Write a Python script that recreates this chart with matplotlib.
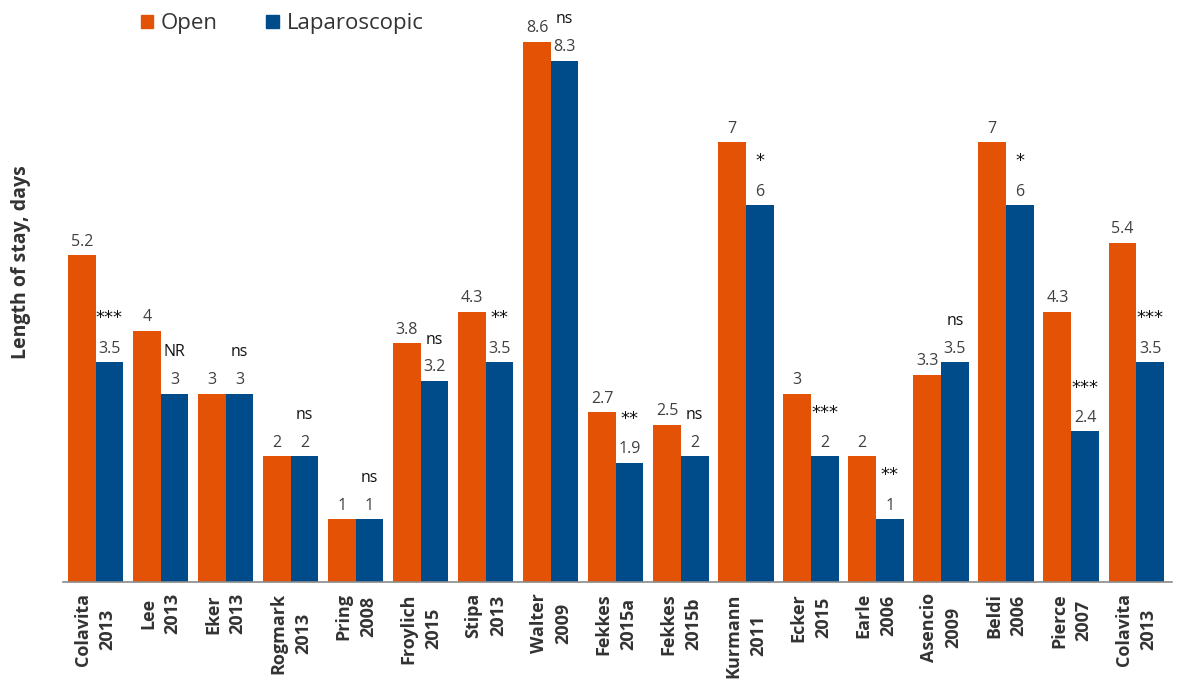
import matplotlib
matplotlib.use("Agg")
import matplotlib.pyplot as plt
from matplotlib.patches import Patch
import numpy as np

plt.rcParams["font.family"] = ["Open Sans", "DejaVu Sans"]

studies = ["Colavita\n2013", "Lee\n2013", "Eker\n2013", "Rogmark\n2013", "Pring\n2008",
           "Froylich\n2015", "Stipa\n2013", "Walter\n2009", "Fekkes\n2015a", "Fekkes\n2015b",
           "Kurmann\n2011", "Ecker\n2015", "Earle\n2006", "Asencio\n2009", "Beldi\n2006",
           "Pierce\n2007", "Colavita\n2013"]
open_los = [5.2, 4, 3, 2, 1, 3.8, 4.3, 8.6, 2.7, 2.5, 7, 3, 2, 3.3, 7, 4.3, 5.4]
lap_los = [3.5, 3, 3, 2, 1, 3.2, 3.5, 8.3, 1.9, 2, 6, 2, 1, 3.5, 6, 2.4, 3.5]
significance = ["***", "NR", "ns", "ns", "ns", "ns", "**", "ns", "**", "ns",
                "*", "***", "**", "ns", "*", "***", "***"]

ORANGE = "#E35205"
BLUE = "#004C8A"
LABEL_GRAY = "#404040"

fig = plt.figure(figsize=(11.82, 6.79), dpi=100)
ax = fig.add_axes([0.0533, 0.1429, 0.9382, 0.851])

x = np.arange(len(studies))
w = 0.425
ax.bar(x - w / 2, open_los, width=w, color=ORANGE)
ax.bar(x + w / 2, lap_los, width=w, color=BLUE)

def fmt(v):
    return f"{v:g}"

for xi, v in zip(x - w / 2, open_los):
    ax.annotate(fmt(v), (xi, v), xytext=(0, 4), textcoords="offset points",
                ha="center", va="bottom", fontsize=11.5, color=LABEL_GRAY)
for xi, v, s in zip(x + w / 2, lap_los, significance):
    ax.annotate(fmt(v), (xi, v), xytext=(0, 4), textcoords="offset points",
                ha="center", va="bottom", fontsize=11.5, color=LABEL_GRAY)
    if "*" in s:
        ax.annotate(s, (xi, v), xytext=(0, 25), textcoords="offset points",
                    ha="center", va="bottom", fontsize=13, color="#111111",
                    family=["DejaVu Sans"])
    else:
        ax.annotate(s, (xi, v), xytext=(0, 24), textcoords="offset points",
                    ha="center", va="bottom", fontsize=11.5, color="#111111")

ax.set_xlim(-0.5, 16.55)
ax.set_ylim(0, 9.2)
ax.set_xticks(x)
ax.set_xticklabels(studies, rotation=90, ha="center", va="top", multialignment="center",
                   fontsize=13, fontweight="bold", color="#333333", linespacing=1.45)
ax.tick_params(axis="x", length=0, pad=8)
ax.set_yticks([])
for side in ["top", "right", "left"]:
    ax.spines[side].set_visible(False)
ax.spines["bottom"].set_color("#8a8a8a")
ax.spines["bottom"].set_linewidth(1.2)

fig.text(0.018, 0.614, "Length of stay, days", rotation=90, ha="center", va="center",
         fontsize=14, fontweight="bold", color="#333333")

handles = [Patch(color=ORANGE, label="Open"), Patch(color=BLUE, label="Laparoscopic")]
fig.legend(handles=handles, loc="upper left", bbox_to_anchor=(0.102, 1.01), ncol=2,
           frameon=False, fontsize=16, handlelength=0.55, handleheight=0.55,
           handletextpad=0.35, columnspacing=2.2, labelcolor="#333333")

fig.savefig("out.png", dpi=100)
